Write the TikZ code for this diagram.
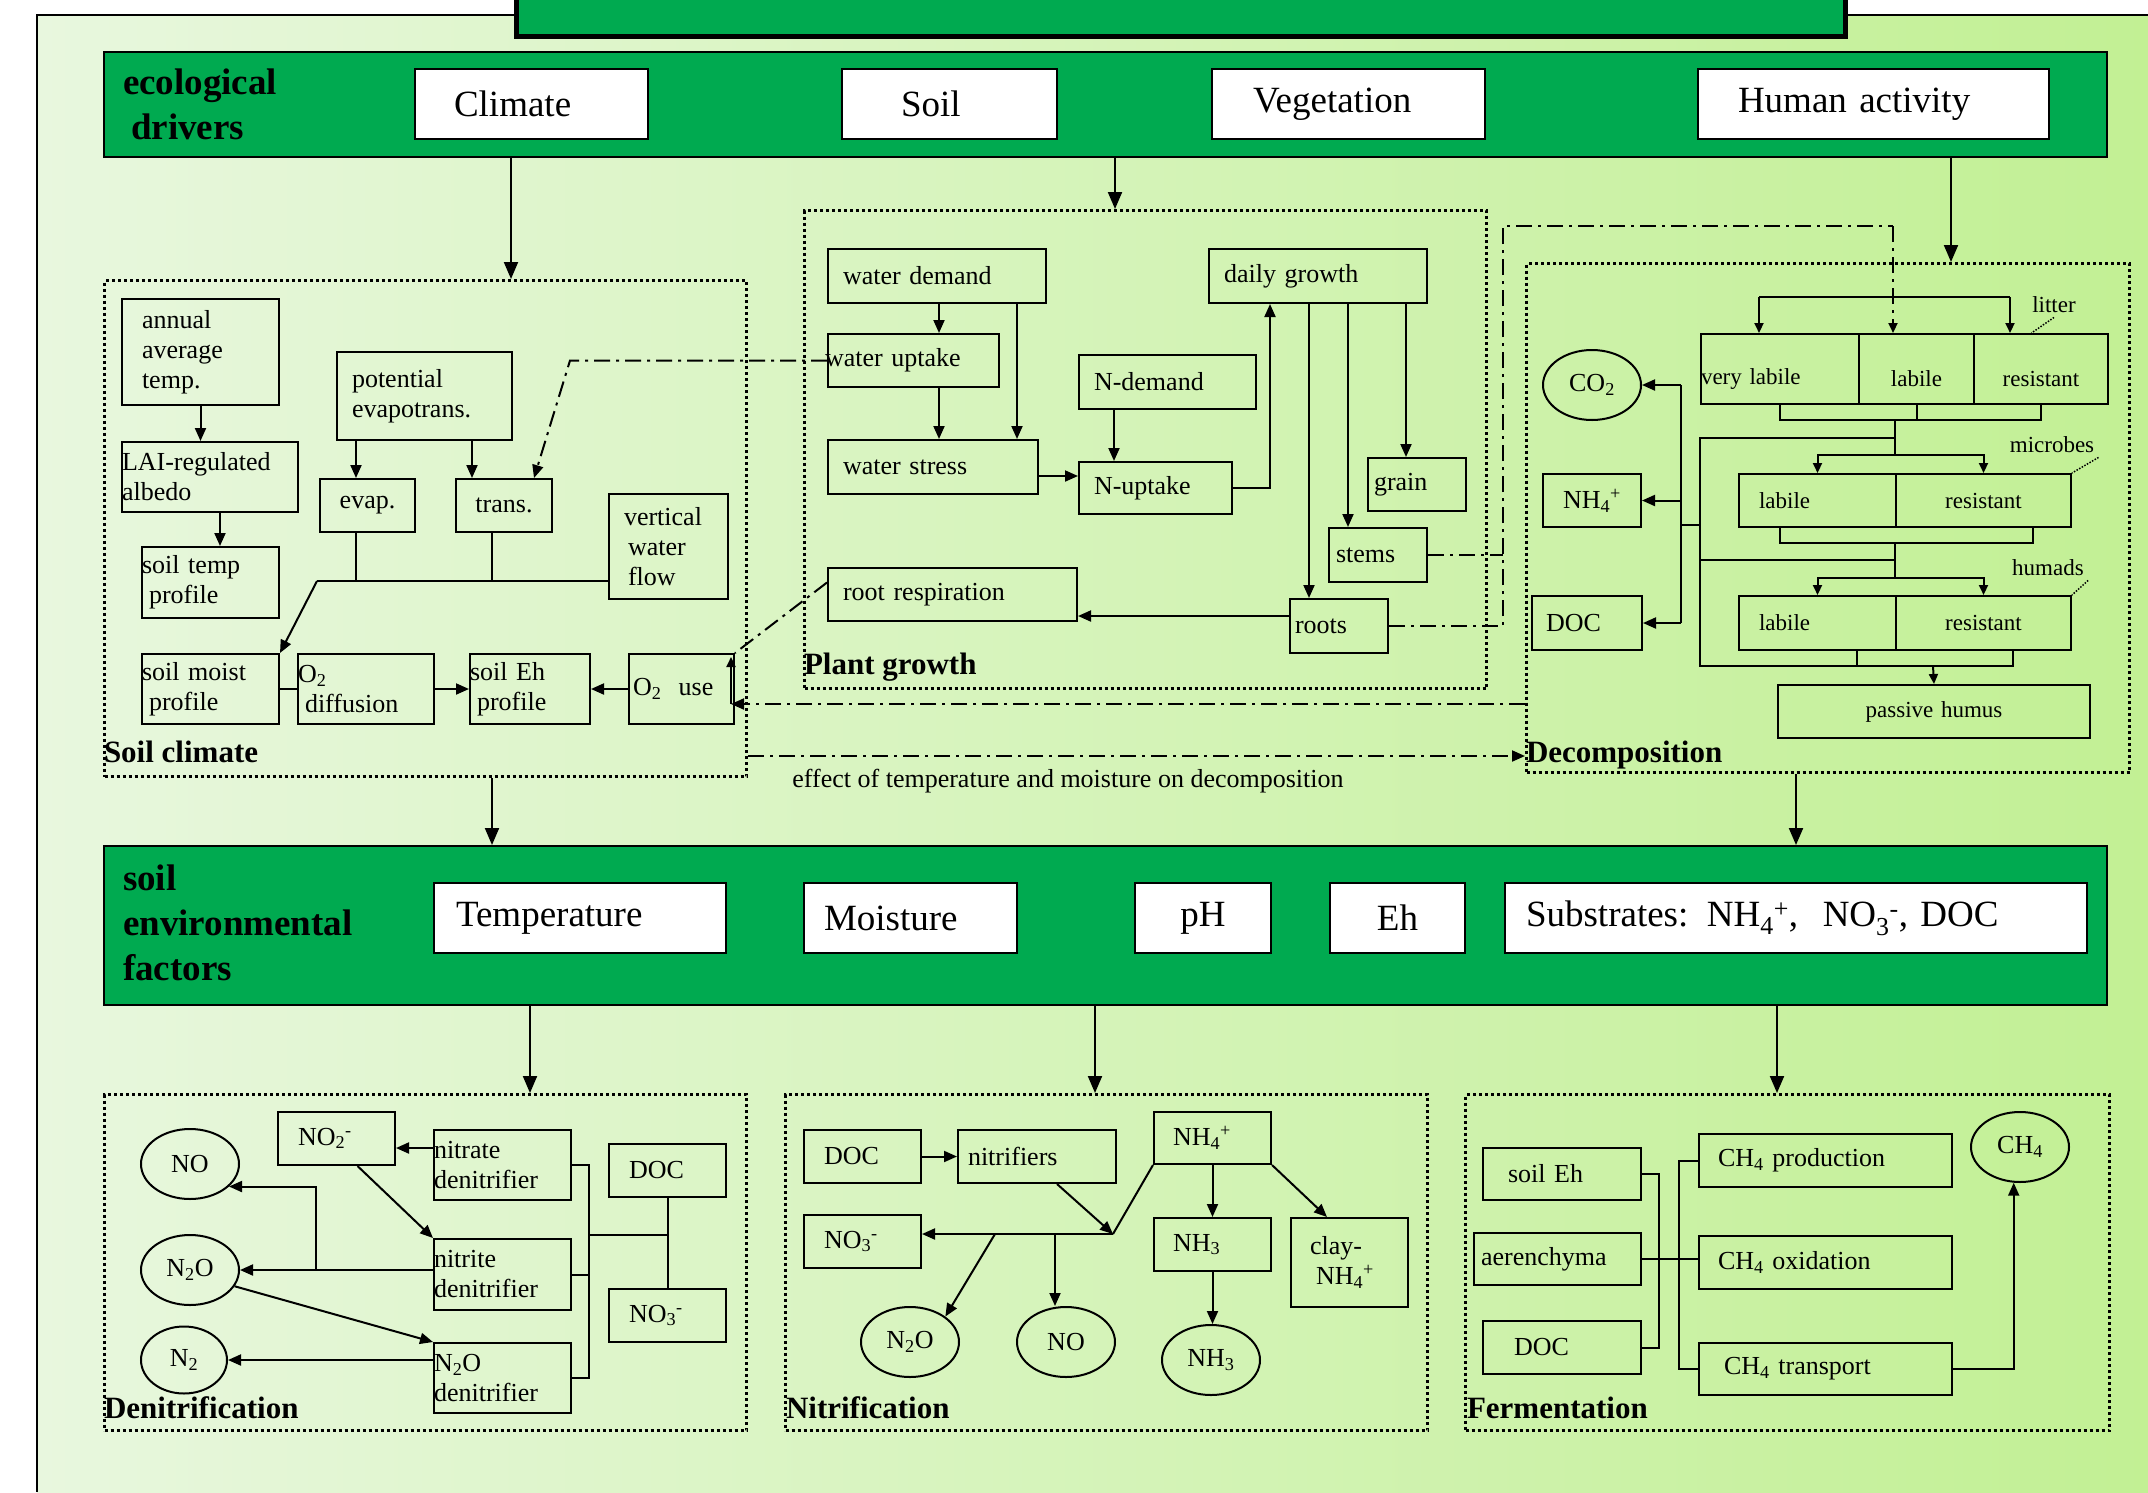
\documentclass[tikz,border=0pt]{standalone}
\usepackage{fontspec}
\setmainfont{Liberation Serif}
\usetikzlibrary{arrows.meta,shapes.geometric,calc}

\definecolor{bargreen}{RGB}{0,170,80}
\definecolor{bgleft}{RGB}{232,247,222}
\definecolor{bgright}{RGB}{194,240,148}

\newcommand\fbig{\fontsize{37}{42}\selectfont}
\newcommand\fhead{\bfseries\fontsize{37}{45}\selectfont}
\newcommand\fgroup{\bfseries\fontsize{31}{34}\selectfont}
\newcommand\fsmall{\fontsize{26}{30}\selectfont}
\newcommand\ftiny{\fontsize{23}{27}\selectfont}
\newcommand\sub[1]{\textsubscript{#1}}
\newcommand\nhf{NH\sub{4}\textsuperscript{+}}
\newcommand\low{\rule{0pt}{36pt}}

\tikzset{
  flow/.style={
    x=1pt, y=-1pt, line width=2pt,
    >={Triangle[length=13pt,width=11pt]},
    box/.style={draw, rectangle, line width=2pt, anchor=north west,
      inner xsep=7pt, inner ysep=0pt, align=left, font=\fsmall},
    whitebox/.style={fill=white, font=\fbig},
    greenbar/.style={fill=bargreen},
    group/.style={line width=3pt, dash pattern=on 3pt off 3pt},
    oval/.style={draw, ellipse, line width=2pt, minimum width=98pt,
      minimum height=70pt, inner sep=0pt, font=\fsmall},
    headlabel/.style={font=\fhead, anchor=north west, align=left, inner sep=0pt},
    grouplabel/.style={font=\fgroup, anchor=base west, inner sep=0pt},
    dashdot/.style={dash pattern=on 16pt off 6pt on 3pt off 6pt},
    leader/.style={line width=1.5pt, dash pattern=on 1.5pt off 1.5pt},
    bigarrow/.style={-{Triangle[length=17pt,width=14pt]}},
    small arrow/.style={-{Triangle[length=10pt,width=9pt]}},
  }
}

\newcommand\cellbox[7][]{%
  \pgfmathsetmacro\cbw{#5-#3-14}%
  \pgfmathsetmacro\cbh{#6-#4}%
  \node[box,text width=\cbw pt,minimum height=\cbh pt,#1] (#2) at (#3,#4) {#7};}

\begin{document}
\begin{tikzpicture}[flow]
\useasboundingbox (0,0) rectangle (2148,1492);
\shade[left color=bgleft,right color=bgright] (37,15) rectangle (2148,1492);
\draw (37,1492) -- (37,15) -- (2148,15);
\draw[line width=5pt,fill=bargreen] (516,-10) rectangle (1845,36);

% ecological drivers
\cellbox[greenbar]{eco}{103}{51}{2106}{156}{}
\node[headlabel] (ecolab) at (122,68) {ecological\\\hspace*{8pt}drivers};
\cellbox[whitebox]{climate}{414}{68}{647}{138}{\hspace*{32pt}Climate}
\cellbox[whitebox]{soil}{841}{68}{1056}{138}{\hspace*{52pt}Soil}
\cellbox[whitebox]{vegetation}{1211}{68}{1484}{138}{\hspace*{34pt}Vegetation}
\cellbox[whitebox]{human}{1697}{68}{2048}{138}{\hspace*{33pt}Human activity}

% soil climate
\cellbox[group]{sclim}{103}{279}{745}{775}{}
\cellbox{annual}{121}{298}{278}{404}{\hspace*{13pt}annual\\\hspace*{13pt}average\\\hspace*{13pt}temp.}
\cellbox{albedo}{121}{441}{297}{511}{\hspace*{-7pt}LAI-regulated\\\hspace*{-7pt}albedo}
\cellbox{soiltemp}{141}{546}{278}{617}{\hspace*{-7pt}soil temp\\\hspace*{0pt}profile}
\cellbox{potevap}{336}{351}{511}{439}{\hspace*{8pt}potential\\\hspace*{8pt}evapotrans.}
\cellbox[align=center]{evap}{319}{478}{414}{531}{evap.}
\cellbox[align=center]{trans}{455}{478}{551}{531}{trans.}
\cellbox{vflow}{608}{493}{727}{598}{\hspace*{8pt}vertical\\\hspace*{12pt}water\\\hspace*{12pt}flow}
\cellbox{soilmoist}{141}{653}{278}{723}{\hspace*{-7pt}soil moist\\\hspace*{0pt}profile}
\cellbox{otwodiff}{297}{653}{433}{723}{\hspace*{-7pt}O\sub{2}\\\hspace*{0pt}diffusion}
\cellbox{soileh}{469}{653}{589}{723}{\hspace*{-7pt}soil Eh\\\hspace*{0pt}profile}
\cellbox{otwouse}{628}{653}{733}{723}{\hspace*{-3pt}O\sub{2}\ \ use}
\node[grouplabel] (sclab) at (103,762) {Soil climate};

\draw[->] (annual.south) -- (annual.south |- albedo.north);
\draw[->] ([xshift=10pt]albedo.south) -- ([xshift=10pt]albedo.south |- soiltemp.north);
\coordinate (ea) at (356,0);
\coordinate (ta) at (472,0);
\coordinate (tb) at (492,0);
\coordinate (hl) at (317,581);
\draw[->] (potevap.south -| ea) -- (evap.north -| ea);
\draw[->] (potevap.south -| ta) -- (trans.north -| ta);
\draw (evap.south -| ea) -- (hl -| ea);
\draw (trans.south -| tb) -- (hl -| tb);
\draw (vflow.west |- hl) -- (hl);
\draw[->] (hl) -- (soilmoist.north east);
\draw (soilmoist.east) -- (otwodiff.west);
\draw[->] (otwodiff.east) -- (soileh.west);
\draw[->] (otwouse.west) -- (soileh.east);

% plant growth
\cellbox[group]{pgrowth}{803}{209}{1485}{687}{}
\cellbox{wdemand}{827}{248}{1045}{302}{\hspace*{8pt}water demand}
\cellbox{wuptake}{827}{333}{998}{386}{\hspace*{-10pt}water uptake}
\cellbox{wstress}{827}{439}{1037}{493}{\hspace*{8pt}water stress}
\cellbox{ndemand}{1078}{354}{1255}{408}{\hspace*{8pt}N-demand}
\cellbox{nuptake}{1078}{461}{1231}{513}{\hspace*{8pt}N-uptake}
\cellbox{dgrowth}{1208}{248}{1426}{302}{\hspace*{8pt}daily growth}
\cellbox{grain}{1367}{457}{1465}{510}{\hspace*{-1pt}grain}
\cellbox{stems}{1328}{527}{1426}{581}{\hspace*{0pt}stems}
\cellbox{roots}{1289}{598}{1387}{652}{\hspace*{-2pt}roots}
\cellbox{rootresp}{827}{567}{1076}{620}{\hspace*{8pt}root respiration}
\node[grouplabel] (pglab) at (803,674) {Plant growth};

\coordinate (wa) at (939,0);
\coordinate (wb) at (1017,0);
\coordinate (na) at (1114,0);
\coordinate (ga) at (1270,0);
\draw[->] (wdemand.south -| wa) -- (wuptake.north -| wa);
\draw[->] (wuptake.south -| wa) -- (wstress.north -| wa);
\draw[->] (wdemand.south -| wb) -- (wstress.north -| wb);
\draw[->] ([yshift=-9pt]wstress.east) -- ([yshift=-9pt]wstress.east -| nuptake.west);
\draw[->] (ndemand.south -| na) -- (nuptake.north -| na);
\draw[->] (nuptake.east) -| (dgrowth.south -| ga);
\foreach \part/\xx in {roots/1309, stems/1348, grain/1406} {
  \coordinate (pa) at (\xx,0);
  \draw[->] (dgrowth.south -| pa) -- (\part.north -| pa);
}
\draw[->] ([yshift=10pt]roots.west) -- ([yshift=10pt]roots.west -| rootresp.east);

% decomposition
\cellbox[group]{decomp}{1525}{262}{2128}{771}{}
\node[oval] (cotwo) at (1592,385) {CO\sub{2}};
\cellbox[align=center]{dnhfour}{1542}{473}{1640}{526}{\nhf}
\cellbox{ddoc}{1531}{595}{1641}{649}{\hspace*{7pt}DOC}
\cellbox[font=\ftiny]{vlabile}{1700}{333}{1858}{403}{\low\hspace*{-7pt}very labile}
\cellbox[font=\ftiny,align=center]{llabile}{1858}{333}{1973}{403}{\low labile}
\cellbox[font=\ftiny,align=center]{lresist}{1973}{333}{2107}{403}{\low resistant}
\cellbox[font=\ftiny]{mlabile}{1738}{473}{1895}{526}{\hspace*{13pt}labile}
\cellbox[font=\ftiny,align=center]{mresist}{1895}{473}{2070}{526}{resistant}
\cellbox[font=\ftiny]{hlabile}{1738}{595}{1895}{649}{\hspace*{13pt}labile}
\cellbox[font=\ftiny,align=center]{hresist}{1895}{595}{2070}{649}{resistant}
\cellbox[font=\ftiny,align=center]{passive}{1777}{684}{2089}{737}{passive humus}
\node[font=\ftiny] (litterlab) at (2054,305) {litter};
\node[font=\ftiny] (microlab) at (2052,445) {microbes};
\node[font=\ftiny] (humlab) at (2048,568) {humads};
\node[grouplabel] (declab) at (1525,762) {Decomposition};

\draw[leader] (litterlab.south) -- ($(lresist.north west)!0.43!(lresist.north east)$);
\draw[leader] (microlab.south east) -- (mresist.north east);
\draw[leader] (humlab.south east) -- (hresist.north east);

\coordinate (lta) at (1759,297);
\coordinate (ltb) at (2010,297);
\draw (lta) -- (ltb);
\draw[small arrow] (lta) -- (lta |- vlabile.north);
\draw[small arrow] (ltb) -- (ltb |- lresist.north);
\coordinate (lb) at (1895,420);
\coordinate (mtop) at (1895,455);
\coordinate (mb) at (1895,543);
\coordinate (htop) at (1895,578);
\coordinate (hb) at (1933,666);
\draw (vlabile.south) |- (lb) -| (lresist.south);
\draw (llabile.south) -- (llabile.south |- lb);
\draw (lb) -- (mtop);
\draw[small arrow] (mtop) -| (mlabile.north);
\draw[small arrow] (mtop) -| (mresist.north);
\draw ([xshift=-38pt]mlabile.south) |- (mb) -| ([xshift=49pt]mresist.south);
\draw (mb) -- (htop);
\draw[small arrow] (htop) -| (hlabile.north);
\draw[small arrow] (htop) -| (hresist.north);
\draw ([xshift=39pt]hlabile.south) |- (hb) -| ([xshift=29pt]hresist.south);
\draw[small arrow] (hb) -- (passive.north);
\coordinate (busa) at (1700,438);
\coordinate (busb) at (1700,560);
\coordinate (busc) at (1700,666);
\draw (busa -| lb) -- (busa) -- (busc) -- (hb);
\draw (busb) -- (busb -| mb);
\coordinate (abus) at (1681,525);
\draw (abus) -- (abus -| busa);
\draw (abus |- cotwo.east) -- (abus |- ddoc.east);
\draw[->] (abus |- cotwo.east) -- (cotwo.east);
\draw[->] (abus |- dnhfour.east) -- (dnhfour.east);
\draw[->] (abus |- ddoc.east) -- (ddoc.east);

% links between the three upper groups
\coordinate (wt) at (570,0);
\draw[dashdot,->] (wuptake.west) -- (wuptake.west -| wt) -- ([xshift=-19pt]trans.north east);
\draw[dashdot] ([yshift=12pt]rootresp.west) -- (otwouse.north east);
\coordinate (dda) at (1503,226);
\coordinate (ddb) at (1893,226);
\draw[dashdot] (roots.east) -| (dda) -- (ddb);
\draw[dashdot] (stems.east) -- (stems.east -| dda);
\draw[dashdot,small arrow] (ddb) -- (ddb |- llabile.north);
\coordinate (dm) at (731,704);
\coordinate (du) at (731,657);
\draw[dashdot,->] (decomp.west |- dm) -- (dm);
\draw[small arrow] (dm) -- (du);
\coordinate (ef) at (746,756);
\draw[dashdot,->] (sclim.east |- ef) -- (decomp.west |- ef);
\node[font=\fsmall] (effect) at (1068,781) {effect of temperature and moisture on decomposition};

% arrows from drivers
\coordinate (sca) at (511,0);
\coordinate (pga) at (1115,0);
\coordinate (haa) at (1951,0);
\draw[bigarrow] (eco.south -| sca) -- (sclim.north -| sca);
\draw[bigarrow] (eco.south -| pga) -- (pgrowth.north -| pga);
\draw[bigarrow] (eco.south -| haa) -- (decomp.north -| haa);

% soil environmental factors
\cellbox[greenbar]{env}{103}{845}{2106}{1004}{}
\node[headlabel] (envlab) at (122,864) {soil\\environmental\\factors};
\cellbox[whitebox]{temperature}{433}{882}{725}{952}{\hspace*{15pt}Temperature}
\cellbox[whitebox]{moisture}{803}{882}{1016}{952}{\hspace*{13pt}Moisture}
\cellbox[whitebox,align=center]{ph}{1134}{882}{1270}{952}{pH}
\cellbox[whitebox,align=center]{eh}{1329}{882}{1464}{952}{Eh}
\cellbox[whitebox]{substrates}{1504}{882}{2086}{952}{\hspace*{14pt}Substrates: \nhf,\ \ NO\sub{3}\textsuperscript{-}, DOC}

\coordinate (scb) at (492,0);
\coordinate (deb) at (1796,0);
\draw[bigarrow] (sclim.south -| scb) -- (env.north -| scb);
\draw[bigarrow] (decomp.south -| deb) -- (env.north -| deb);

% denitrification
\cellbox[group]{denit}{103}{1093}{745}{1429}{}
\node[oval] (dno) at (190,1164) {NO};
\node[oval] (dntwoo) at (190,1270) {N\sub{2}O};
\node[oval,minimum width=86pt,minimum height=67pt] (dntwo) at (184,1360) {N\sub{2}};
\cellbox{dnotwo}{277}{1111}{394}{1164}{\hspace*{13pt}NO\sub{2}\textsuperscript{-}}
\cellbox{nitrate}{433}{1129}{570}{1199}{\hspace*{-7pt}nitrate\\\hspace*{-7pt}denitrifier}
\cellbox{nitrite}{433}{1238}{570}{1309}{\hspace*{-7pt}nitrite\\\hspace*{-7pt}denitrifier}
\cellbox{ntwoo}{433}{1342}{570}{1412}{\hspace*{-7pt}N\sub{2}O\\\hspace*{-7pt}denitrifier}
\cellbox{dndoc}{608}{1143}{725}{1196}{\hspace*{13pt}DOC}
\cellbox{dnothree}{608}{1288}{725}{1341}{\hspace*{13pt}NO\sub{3}\textsuperscript{-}}
\node[grouplabel] (denlab) at (103,1418) {Denitrification};

\draw[->] ([yshift=17pt]nitrate.west) -- ([yshift=17pt]nitrate.west -| dnotwo.east);
\draw[->] ([xshift=21pt]dnotwo.south) -- (nitrite.north west);
\draw[->] (nitrite.west |- dntwoo.east) -- (dntwoo.east);
\coordinate (nb) at (316,1270);
\draw[->] (nb) |- (dno.-30);
\draw[->] (dntwoo.-20) -- (ntwoo.north west);
\draw[->] (ntwoo.west |- dntwo.east) -- (dntwo.east);
\coordinate (rb) at (589,1235);
\draw (nitrate.east) -| (rb |- ntwoo.east) -- (ntwoo.east);
\draw (nitrite.east) -- (nitrite.east -| rb);
\draw (rb) -- (rb -| dndoc.south);
\draw (dndoc.south) -- (dnothree.north);

% nitrification
\cellbox[group]{nitri}{784}{1093}{1426}{1429}{}
\cellbox{ndoc}{803}{1129}{920}{1182}{\hspace*{13pt}DOC}
\cellbox{nitrifiers}{957}{1129}{1115}{1182}{\hspace*{3pt}nitrifiers}
\cellbox{nnhfour}{1153}{1111}{1270}{1163}{\hspace*{12pt}\nhf}
\cellbox{nnothree}{803}{1214}{920}{1267}{\hspace*{13pt}NO\sub{3}\textsuperscript{-}}
\cellbox{nhthree}{1153}{1217}{1270}{1270}{\hspace*{12pt}NH\sub{3}}
\cellbox{clay}{1290}{1217}{1407}{1306}{\hspace*{12pt}clay-\\\hspace*{18pt}\nhf}
\node[oval] (nntwoo) at (910,1342) {N\sub{2}O};
\node[oval] (nno) at (1066,1342) {NO};
\node[oval] (nhthreeg) at (1211,1360) {NH\sub{3}};
\node[grouplabel] (nitlab) at (785,1418) {Nitrification};

\draw[->] (ndoc.east) -- (nitrifiers.west);
\coordinate (nj) at (1113,1234);
\coordinate (nk) at (995,1234);
\coordinate (nl) at (1055,1234);
\draw[->] ([xshift=20pt]nitrifiers.south) -- (nj);
\draw (nnhfour.south west) -- (nj);
\draw[->] (nj) -- (nj -| nnothree.east);
\draw[->] (nk) -- (nntwoo.north east);
\draw[->] (nl) -- (nl |- nno.north);
\draw[->] (nnhfour.south) -- (nhthree.north);
\draw[->] (nnhfour.south east) -- ([xshift=37pt]clay.north west);
\draw[->] (nhthree.south) -- (nhthree.south |- nhthreeg.north);

% fermentation
\cellbox[group]{ferm}{1464}{1093}{2108}{1429}{}
\cellbox{feh}{1482}{1147}{1640}{1199}{\hspace*{18pt}soil Eh}
\cellbox{faer}{1473}{1232}{1640}{1284}{\hspace*{0pt}aerenchyma}
\cellbox{fdoc}{1482}{1320}{1640}{1373}{\hspace*{24pt}DOC}
\cellbox{prod}{1698}{1133}{1951}{1186}{\hspace*{12pt}CH\sub{4} production}
\cellbox{oxid}{1698}{1235}{1951}{1288}{\hspace*{12pt}CH\sub{4} oxidation}
\cellbox{transp}{1698}{1342}{1951}{1394}{\hspace*{18pt}CH\sub{4} transport}
\node[oval] (ch) at (2020,1147) {CH\sub{4}};
\node[grouplabel] (ferlab) at (1466,1418) {Fermentation};

\coordinate (fl) at (1659,1253);
\coordinate (fr) at (1679,1253);
\draw (feh.east) -| (fl) |- (fdoc.east);
\draw (prod.west) -| (fr) |- (transp.west);
\draw (faer.east) -- (faer.east -| oxid.west);
\draw[->] (transp.east) -| (ch.-100);

% arrows from soil environmental factors
\coordinate (dna) at (530,0);
\coordinate (nia) at (1095,0);
\coordinate (fea) at (1777,0);
\draw[bigarrow] (env.south -| dna) -- (denit.north -| dna);
\draw[bigarrow] (env.south -| nia) -- (nitri.north -| nia);
\draw[bigarrow] (env.south -| fea) -- (ferm.north -| fea);
\end{tikzpicture}
\end{document}
